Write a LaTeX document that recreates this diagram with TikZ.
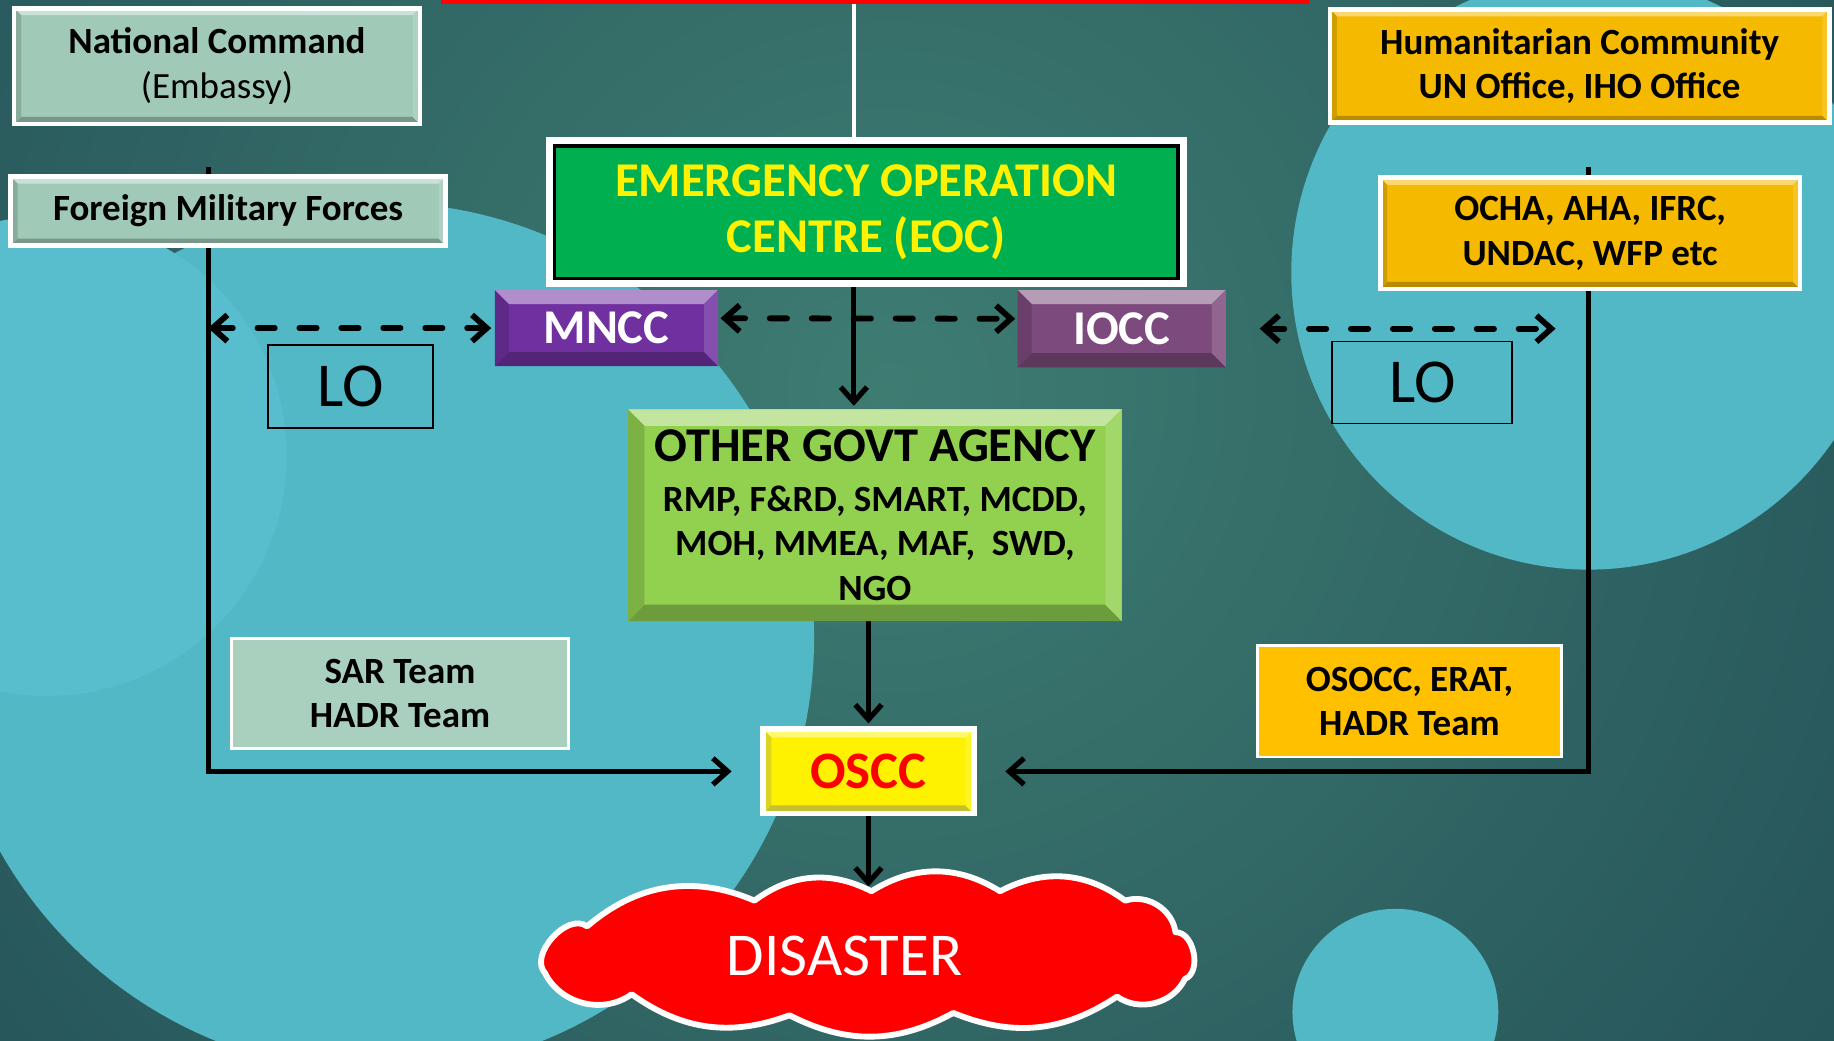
\documentclass[tikz,border=0pt]{standalone}
\usepackage{fontspec}
\setmainfont{Carlito}
\usetikzlibrary{arrows.meta, calc}
\newdimen\pxu \pxu=0.025cm
\definecolor{bgin}{RGB}{62,124,114}
\definecolor{bgout}{RGB}{18,52,70}
\definecolor{lagoon}{RGB}{82,184,198}
\definecolor{lagoonlt}{RGB}{88,190,205}
\definecolor{sage}{RGB}{160,201,183}
\definecolor{sagelt}{RGB}{169,208,191}
\definecolor{amber}{RGB}{245,185,0}
\definecolor{gold}{RGB}{255,192,0}
\definecolor{eocgreen}{RGB}{0,176,80}
\definecolor{mnccpurple}{RGB}{112,48,160}
\definecolor{ioccplum}{RGB}{124,74,124}
\definecolor{ogagreen}{RGB}{146,208,80}
\pgfdeclarelayer{background}
\pgfdeclarelayer{lines}
\pgfsetlayers{background,lines,main}
\tikzset{
	bevelled/.style 2 args={path picture={
		\fill[#1!55!white](path picture bounding box.north west)--(path picture bounding box.north east)--([shift={(-#2,#2)}]path picture bounding box.north east)--([shift={(#2,#2)}]path picture bounding box.north west)--cycle;
		\fill[#1!75!black](path picture bounding box.south west)--(path picture bounding box.south east)--([shift={(-#2,-#2)}]path picture bounding box.south east)--([shift={(#2,-#2)}]path picture bounding box.south west)--cycle;
		\fill[#1!85!black](path picture bounding box.north west)--(path picture bounding box.south west)--([shift={(#2,-#2)}]path picture bounding box.south west)--([shift={(#2,#2)}]path picture bounding box.north west)--cycle;
		\fill[#1!85!white](path picture bounding box.north east)--(path picture bounding box.south east)--([shift={(-#2,-#2)}]path picture bounding box.south east)--([shift={(-#2,#2)}]path picture bounding box.north east)--cycle;
	}},
	box/.style={inner sep=0pt, outer sep=0pt, align=center},
	framed/.style={box, draw=white, line width=4\pxu},
	boxtext/.style={font=\bfseries\fontsize{22.5}{27}\selectfont, text=black},
	bigtext/.style={font=\bfseries\fontsize{29.5}{34}\selectfont},
	lotext/.style={box, draw=black, line width=1.5\pxu, font=\fontsize{38}{44}\selectfont},
	flow/.style={draw=black, line width=4.5\pxu, -{Straight Barb[length=9pt,width=16pt]}},
	link/.style={draw=black, line width=5\pxu, dash pattern=on 10.5pt off 15pt, line cap=round, {Straight Barb[length=9pt,width=16pt]}-{Straight Barb[length=9pt,width=16pt]}}
}
\begin{document}
\begin{tikzpicture}[x=\pxu, y=-\pxu]
	\useasboundingbox(0,0)rectangle(1568,890);
	\begin{pgfonlayer}{background}
		\clip(0,0)rectangle(1568,890);
		\shade[inner color=bgin, outer color=bgout](760,330)circle(1800);
		\fill[lagoon](324,545)circle(372);
		\fill[lagoonlt](40,390)circle(205);
		\fill[lagoon](1358,233)circle(254);
		\fill[lagoon](1193,865)circle(88);
	\end{pgfonlayer}
	\coordinate(axis)at(730,0);
	\coordinate(lt)at(178,143);
	\coordinate(rt)at(1358,143);
	\node[box, fill=red, minimum width=742\pxu, minimum height=30\pxu](title)at(748,-12){};
	\node[framed, fill=sage, bevelled={sage}{6}, minimum width=347\pxu, minimum height=99\pxu, boxtext](natcmd)at(185.5,56.5){National Command\\\mdseries(Embassy)};
	\node[framed, fill=sage, bevelled={sage}{6}, minimum width=372\pxu, minimum height=59\pxu, boxtext](fmf)at(195,180.5){Foreign Military Forces};
	\node[framed, fill=amber, bevelled={amber}{6}, minimum width=427\pxu, minimum height=97\pxu, boxtext](humcom)at(1350.5,56.5){Humanitarian Community\\UN Office, IHO Office};
	\node[framed, fill=amber, bevelled={amber}{6}, minimum width=359\pxu, minimum height=95\pxu, boxtext](ocha)at(1359.5,199.5){OCHA, AHA, IFRC,\\UNDAC, WFP etc};
	\node[box, fill=eocgreen, draw=black, line width=3\pxu, preaction={draw=white, line width=15\pxu}, minimum width=533\pxu, minimum height=113\pxu, bigtext, text=yellow](eoc)at(740.5,181.5){EMERGENCY OPERATION\\CENTRE (EOC)};
	\node[box, fill=mnccpurple, bevelled={mnccpurple}{12}, minimum width=191\pxu, minimum height=65\pxu, bigtext, text=white](mncc)at(518.5,280.5){MNCC};
	\node[box, fill=ioccplum, bevelled={ioccplum}{12}, minimum width=178\pxu, minimum height=66\pxu, bigtext, text=white](iocc)at(959,281){IOCC};
	\node[lotext, minimum width=141\pxu, minimum height=71\pxu](loL)at(299.5,330.5){LO};
	\node[lotext, minimum width=154\pxu, minimum height=70\pxu](loR)at(1216,327){LO};
	\node[box, fill=ogagreen, bevelled={ogagreen}{14}, minimum width=422\pxu, minimum height=181\pxu, boxtext](oga)at(748,440.5){{\fontsize{29.5}{34}\selectfont OTHER GOVT AGENCY}\\[3pt]RMP, F\&RD, SMART, MCDD,\\MOH, MMEA, MAF, \ SWD,\\NGO};
	\node[box, fill=sagelt, draw=white, line width=2\pxu, minimum width=288\pxu, minimum height=94\pxu, boxtext](sar)at(342,593){SAR Team\\HADR Team};
	\node[box, fill=gold, draw=white, line width=2\pxu, minimum width=260\pxu, minimum height=95\pxu, boxtext](osocc)at(1205,599.5){OSOCC, ERAT,\\HADR Team};
	\node[box, fill=yellow, bevelled={yellow}{7}, draw=white, line width=5\pxu, minimum width=180\pxu, minimum height=72\pxu, text=red, font=\bfseries\fontsize{32}{38}\selectfont](oscc)at(742.5,659.5){OSCC};
	\draw[white, line width=5\pxu, fill=red, line join=round](466,832)to[bend left=85](502,792)to[bend left=32](645,770)to[bend left=32](745,762)to[bend left=32](855,762)to[bend left=32](962,770)to[bend left=50](1005,797)to[bend left=80](1013,837)to[bend left=50](955,852)to[bend left=28](815,866)to[bend left=28](675,868)to[bend left=28](540,850)to[bend left=50](466,832)--cycle;
	\node[box, minimum height=118\pxu, text=white, font=\fontsize{37}{44}\selectfont](disaster)at(722,817){DISASTER};
	\begin{pgfonlayer}{lines}
		\draw[white, line width=3\pxu](title.south -| axis)--(eoc.north -| axis);
		\draw[flow, shorten >=3\pxu](eoc.south -| axis)--(oga.north -| axis);
		\draw[flow, shorten >=5\pxu](oga.south -| oscc)--(oscc.north);
		\draw[flow](oscc.south)--(oscc.south |- disaster.north);
		\draw[flow, shorten >=27\pxu](lt)|-(oscc.west);
		\draw[flow, shorten >=27\pxu](rt)|-(oscc.east);
		\draw[link, shorten >=3\pxu](mncc.west -| lt)--(mncc.west);
		\draw[link, shorten <=2\pxu, shorten >=2\pxu]([yshift=6pt]mncc.east)--([yshift=6pt]iocc.west);
		\draw[link, shorten <=29\pxu, shorten >=28\pxu](iocc.east)--(iocc.east -| rt);
	\end{pgfonlayer}
\end{tikzpicture}
\end{document}
